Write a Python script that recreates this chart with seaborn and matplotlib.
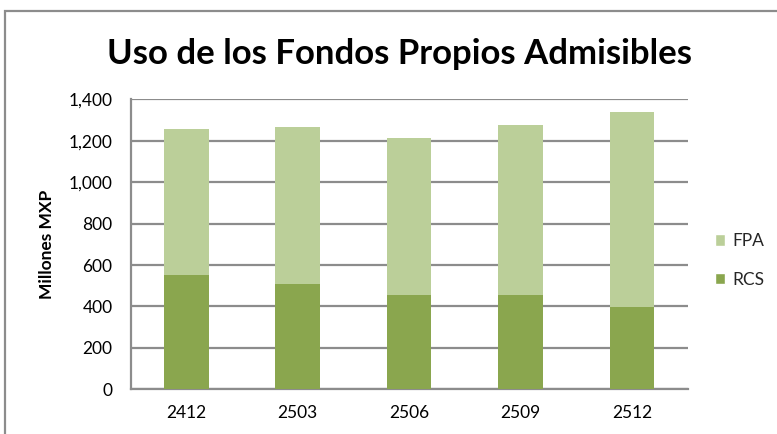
import matplotlib
matplotlib.use("Agg")
import matplotlib.pyplot as plt
from matplotlib.patches import Patch, Rectangle
import seaborn as sns
import pandas as pd

# data
periods = ["2412", "2503", "2506", "2509", "2512"]
rcs = [550, 507, 457, 457, 396]
fpa = [705, 758, 758, 818, 941]

c_rcs = "#8AA64E"
c_fpa = "#BBCF99"
grid_c = "#8C8C8C"

sns.set_style("white")
plt.rcParams['font.family'] = ['Lato', 'DejaVu Sans']

df = pd.DataFrame({"periodo": periods, "RCS": rcs, "FPA": fpa})
df["total"] = df["RCS"] + df["FPA"]

fig = plt.figure(figsize=(7.77, 4.34), dpi=100)
ax = fig.add_axes([0.168, 0.103, 0.717, 0.668])

sns.barplot(data=df, x="periodo", y="total", color=c_fpa, width=0.4,
            saturation=1, linewidth=0, ax=ax, zorder=3)
sns.barplot(data=df, x="periodo", y="RCS", color=c_rcs, width=0.4,
            saturation=1, linewidth=0, ax=ax, zorder=3)

ax.set_ylim(0, 1400)
ax.set_xlim(-0.5, 4.5)
ax.set_yticks(range(0, 1401, 200))
ax.yaxis.set_major_formatter(matplotlib.ticker.FuncFormatter(lambda v, p: f"{int(v):,}"))
ax.grid(axis="y", color=grid_c, linewidth=1.6, zorder=0)
ax.set_axisbelow(True)
for s in ["top", "right"]:
    ax.spines[s].set_visible(False)
for s in ["left", "bottom"]:
    ax.spines[s].set_color(grid_c)
    ax.spines[s].set_linewidth(1.6)
ax.tick_params(axis="y", length=5, width=1.6, color=grid_c, pad=8, labelsize=12.5, labelcolor="black")
ax.tick_params(axis="x", length=0, pad=11, labelsize=12.5, labelcolor="black")
ax.set_xlabel("")
ax.set_ylabel("Millones MXP", fontsize=12.5, fontweight="bold", labelpad=10, color="black")

fig.text(0.514, 0.875, "Uso de los Fondos Propios Admisibles", ha="center", va="center",
         fontsize=25, fontweight="bold", color="black")

handles = [Patch(facecolor=c_fpa, label="FPA"), Patch(facecolor=c_rcs, label="RCS")]
fig.legend(handles=handles, loc="center left", bbox_to_anchor=(0.9, 0.4),
           frameon=False, fontsize=12.5, handlelength=0.6, handleheight=0.6,
           handletextpad=0.4, labelspacing=1.3)

fig.patches.append(Rectangle((5 / 777, -0.1), 1.2, 1 - 11 / 434 + 0.1, transform=fig.transFigure,
                             fill=False, edgecolor="#8C8C8C", linewidth=1.6))

fig.savefig("out.png", dpi=100)
